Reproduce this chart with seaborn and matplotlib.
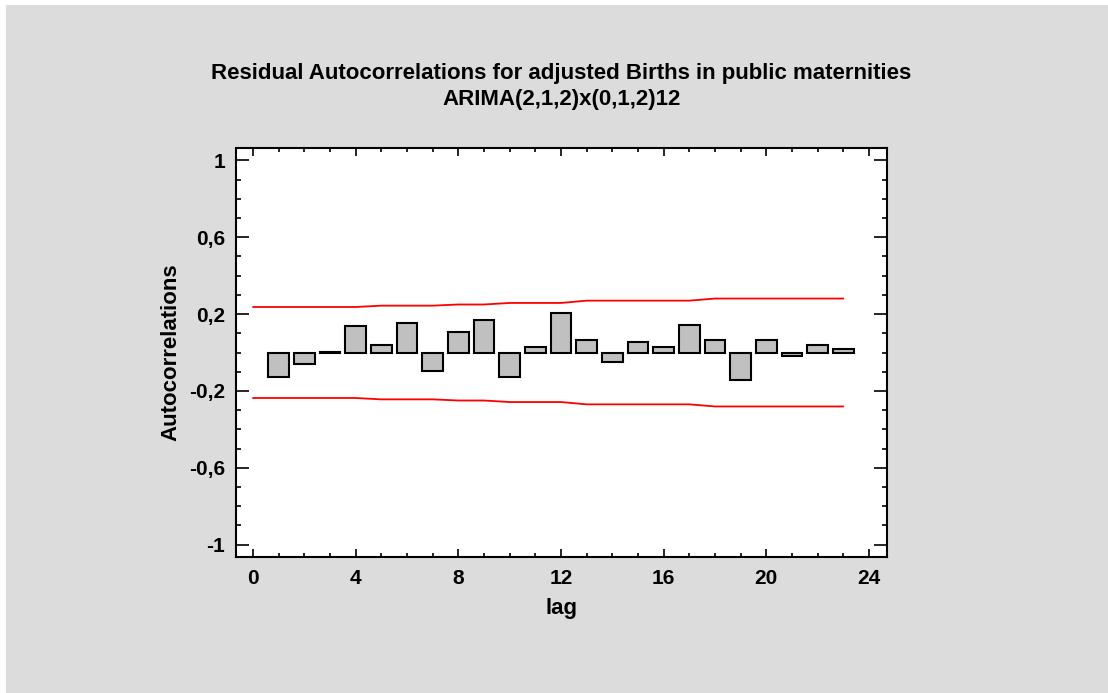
import numpy as np
import pandas as pd
import matplotlib
matplotlib.use("Agg")
import matplotlib.pyplot as plt
import seaborn as sns
from matplotlib.patches import Rectangle
from matplotlib.ticker import MultipleLocator, FixedLocator, FuncFormatter

# ---- data ----
lags = [1, 2, 3, 4, 5, 6, 7, 8, 9, 10, 11, 12, 13, 14, 15, 16, 17, 18, 19, 20, 21, 22, 23]
acf = [-0.125, -0.062, 0.002, 0.137, 0.037, 0.154, -0.096, 0.109, 0.171, -0.126, 0.027, 0.208,
       0.065, -0.051, 0.055, 0.029, 0.145, 0.065, -0.143, 0.065, -0.017, 0.039, 0.020]
limit_lags = [0, 1, 2, 3, 4, 5, 6, 7, 8, 9, 10, 11, 12, 13, 14, 15, 16, 17, 18, 19, 20, 21, 22, 23]
upper_limit = [0.237, 0.237, 0.237, 0.237, 0.237, 0.244, 0.244, 0.244, 0.250, 0.250, 0.258, 0.258,
               0.258, 0.270, 0.270, 0.270, 0.270, 0.270, 0.281, 0.281, 0.281, 0.281, 0.281, 0.281]
lower_limit = [-v for v in upper_limit]
x_ticks = [0, 4, 8, 12, 16, 20, 24]
y_ticks = [-1, -0.6, -0.2, 0.2, 0.6, 1]
title_lines = ["Residual Autocorrelations for adjusted Births in public maternities",
               "ARIMA(2,1,2)x(0,1,2)12"]

sns.set_theme(style="white")
plt.rcParams['font.family'] = ['Liberation Sans', 'DejaVu Sans']
plt.rcParams['font.weight'] = 'bold'
plt.rcParams['text.color'] = 'black'
plt.rcParams['axes.labelcolor'] = 'black'
plt.rcParams['xtick.color'] = 'black'
plt.rcParams['ytick.color'] = 'black'

W, H = 1108, 693
fig = plt.figure(figsize=(W / 100, H / 100), dpi=100, facecolor="white")
fig.patches.append(Rectangle((6 / W, 0), 1, 1 - 5 / H, transform=fig.transFigure,
                             facecolor="#DCDCDC", edgecolor="none", zorder=-10))

ax = fig.add_axes([236 / W, 1 - 557 / H, (887 - 236) / W, (557 - 148) / H])
ax.set_facecolor("white")

df = pd.DataFrame({"lag": lags, "acf": acf})
sns.barplot(data=df, x="lag", y="acf", native_scale=True, width=0.8,
            color="#C0C0C0", saturation=1, edgecolor="black", linewidth=1.5, ax=ax,
            zorder=3)
lim_df = pd.DataFrame({"lag": limit_lags, "upper": upper_limit, "lower": lower_limit})
sns.lineplot(data=lim_df, x="lag", y="upper", color="#FF0000", linewidth=1.3, ax=ax, zorder=4)
sns.lineplot(data=lim_df, x="lag", y="lower", color="#FF0000", linewidth=1.3, ax=ax, zorder=4)

ax.set_xlim(-0.66, 24.7)
ax.set_ylim(-1.065, 1.065)
ax.xaxis.set_major_locator(FixedLocator(x_ticks))
ax.xaxis.set_minor_locator(MultipleLocator(1))
ax.yaxis.set_major_locator(FixedLocator(y_ticks))
ax.yaxis.set_minor_locator(MultipleLocator(0.1))
fmt = FuncFormatter(lambda v, p: ("%g" % round(v, 2)).replace(".", ","))
ax.yaxis.set_major_formatter(fmt)
ax.xaxis.set_major_formatter(FuncFormatter(lambda v, p: "%d" % v))

for s in ax.spines.values():
    s.set_visible(True)
    s.set_linewidth(1.5)
    s.set_color("black")

ax.tick_params(axis="y", which="major", direction="in", length=9.4, width=1.2,
               left=True, right=True, labelsize=15, pad=8, colors="black")
ax.tick_params(axis="y", which="minor", direction="in", length=3.6, width=1.2,
               left=True, right=True)
ax.tick_params(axis="x", which="major", direction="in", length=5.8, width=1.2,
               bottom=True, top=True, labelsize=15, pad=9, colors="black")
ax.tick_params(axis="x", which="minor", direction="in", length=2.9, width=1.2,
               bottom=True, top=True)
for lab in ax.get_xticklabels() + ax.get_yticklabels():
    lab.set_fontweight("bold")

ax.set_xlabel("lag", fontsize=16, fontweight="bold", labelpad=7)
ax.set_ylabel("Autocorrelations", fontsize=16, fontweight="bold", labelpad=5)

cx = (236 + 887) / 2 / W
fig.text(cx, 1 - 73 / H, title_lines[0], ha="center", va="center", fontsize=16, fontweight="bold")
fig.text(cx, 1 - 99 / H, title_lines[1], ha="center", va="center", fontsize=16, fontweight="bold")

fig.savefig("out.png", dpi=100, facecolor=fig.get_facecolor())
